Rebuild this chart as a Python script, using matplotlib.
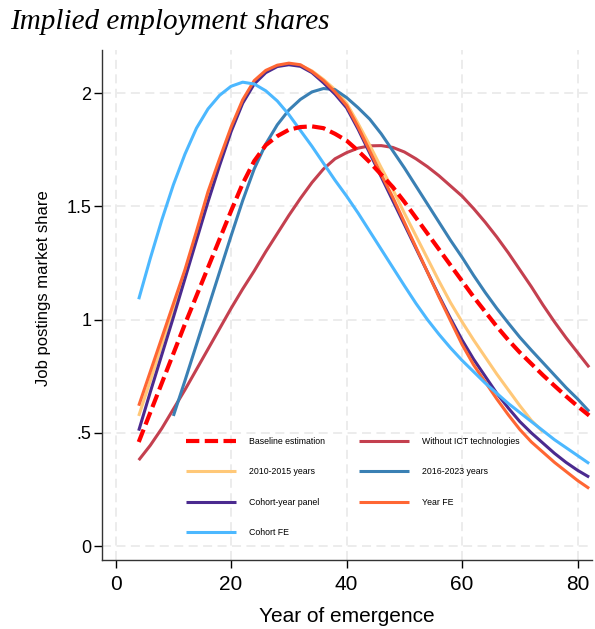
import matplotlib
matplotlib.use("Agg")
import matplotlib.pyplot as plt

# implied employment shares by year of emergence, one curve per specification
x_full = list(range(4, 83, 2))
x_2010 = list(range(4, 75, 2))
x_2016 = list(range(10, 83, 2))

baseline = [0.46, 0.59, 0.72, 0.85, 0.98, 1.105, 1.23, 1.355, 1.48, 1.60,
            1.70, 1.77, 1.81, 1.838, 1.85, 1.853, 1.845, 1.82, 1.79, 1.745,
            1.695, 1.64, 1.585, 1.52, 1.45, 1.38, 1.31, 1.24, 1.17, 1.10,
            1.035, 0.97, 0.91, 0.855, 0.805, 0.755, 0.708, 0.662, 0.618, 0.577]
without_ict = [0.38, 0.445, 0.52, 0.605, 0.69, 0.78, 0.87, 0.96, 1.05, 1.135,
               1.215, 1.30, 1.38, 1.46, 1.535, 1.605, 1.665, 1.71, 1.737, 1.757,
               1.767, 1.768, 1.76, 1.74, 1.71, 1.675, 1.635, 1.59, 1.545, 1.49,
               1.43, 1.365, 1.295, 1.22, 1.145, 1.065, 0.99, 0.92, 0.855, 0.79]
years_2010 = [0.575, 0.73, 0.89, 1.05, 1.21, 1.37, 1.53, 1.69, 1.84, 1.96,
              2.045, 2.095, 2.12, 2.128, 2.122, 2.098, 2.06, 2.015, 1.955, 1.865,
              1.77, 1.67, 1.575, 1.47, 1.37, 1.27, 1.17, 1.075, 0.99, 0.91,
              0.835, 0.76, 0.69, 0.62, 0.555, 0.505]
years_2016 = [0.575, 0.73, 0.89, 1.05, 1.21, 1.37, 1.525, 1.665, 1.775, 1.86,
              1.925, 1.972, 2.005, 2.02, 2.015, 1.98, 1.935, 1.885, 1.82, 1.745,
              1.67, 1.59, 1.51, 1.43, 1.35, 1.275, 1.195, 1.12, 1.05, 0.985,
              0.922, 0.865, 0.81, 0.755, 0.70, 0.65, 0.595]
cohort_year = [0.51, 0.68, 0.845, 1.01, 1.18, 1.35, 1.52, 1.68, 1.83, 1.955,
               2.04, 2.09, 2.117, 2.125, 2.118, 2.09, 2.045, 1.995, 1.935, 1.84,
               1.735, 1.63, 1.525, 1.42, 1.315, 1.21, 1.105, 1.005, 0.91, 0.825,
               0.75, 0.675, 0.61, 0.55, 0.50, 0.455, 0.41, 0.37, 0.335, 0.305]
year_fe = [0.62, 0.77, 0.92, 1.07, 1.22, 1.39, 1.565, 1.71, 1.85, 1.97,
           2.055, 2.10, 2.123, 2.132, 2.125, 2.095, 2.055, 2.005, 1.945, 1.85,
           1.745, 1.64, 1.54, 1.43, 1.32, 1.21, 1.10, 0.995, 0.89, 0.80,
           0.725, 0.65, 0.58, 0.515, 0.46, 0.415, 0.37, 0.33, 0.29, 0.255]
cohort_fe = [1.09, 1.27, 1.44, 1.595, 1.73, 1.845, 1.93, 1.99, 2.03, 2.048,
             2.04, 2.01, 1.965, 1.905, 1.835, 1.765, 1.69, 1.615, 1.545, 1.47,
             1.39, 1.31, 1.23, 1.15, 1.072, 1.0, 0.935, 0.875, 0.82, 0.77,
             0.72, 0.675, 0.63, 0.59, 0.55, 0.51, 0.47, 0.435, 0.40, 0.365]

xticks = [0, 20, 40, 60, 80]
yticks = [0, 0.5, 1, 1.5, 2]
ytick_labels = ["0", ".5", "1", "1.5", "2"]

plt.rcParams['font.family'] = ['Liberation Sans', 'DejaVu Sans']

fig = plt.figure(figsize=(5.95, 6.29), dpi=100)
ax = fig.add_axes([0.172, 0.11, 0.823, 0.8105])

lw = 2.2
l_wo, = ax.plot(x_full, without_ict, color='#C4404F', lw=lw, solid_capstyle='butt', zorder=3)
l_10, = ax.plot(x_2010, years_2010, color='#FFC878', lw=lw, solid_capstyle='butt', zorder=3)
l_16, = ax.plot(x_2016, years_2016, color='#3A80B4', lw=lw, solid_capstyle='butt', zorder=3)
l_cy, = ax.plot(x_full, cohort_year, color='#4B2A8F', lw=lw, solid_capstyle='butt', zorder=3)
l_fe, = ax.plot(x_full, year_fe, color='#FF6633', lw=lw, solid_capstyle='butt', zorder=3)
l_cf, = ax.plot(x_full, cohort_fe, color='#4CB8FF', lw=lw, solid_capstyle='butt', zorder=3)
l_base, = ax.plot(x_full, baseline, color='#FF0000', lw=3.0, dashes=(3.2, 1.3), zorder=4)

ax.set_xlim(-2.3, 82.5)
ax.set_ylim(-0.06, 2.19)
ax.set_xticks(xticks)
ax.set_yticks(yticks)
ax.set_yticklabels(ytick_labels)
ax.tick_params(axis='x', labelsize=15, length=6, width=1, direction='out', pad=5)
ax.tick_params(axis='y', labelsize=13, length=6, width=1, direction='out', pad=2)
ax.grid(True, color='#EBEBEB', lw=1.3, linestyle=(0, (5, 3)), zorder=0)
ax.set_axisbelow(True)

for side in ['top', 'right']:
    ax.spines[side].set_visible(False)
for side in ['left', 'bottom']:
    ax.spines[side].set_color('#333333')
    ax.spines[side].set_linewidth(1.0)

ax.set_xlabel('Year of emergence', fontsize=15, labelpad=9)
ax.set_ylabel('Job postings market share', fontsize=12)
ax.yaxis.set_label_coords(-0.105, 0.533)

handles = [l_base, l_10, l_cy, l_cf, l_wo, l_16, l_fe]
labels = ['Baseline estimation', '2010-2015 years', 'Cohort-year panel', 'Cohort FE',
          'Without ICT technologies', '2016-2023 years', 'Year FE']
ax.legend(handles, labels, ncol=2, frameon=False, fontsize=6.3, loc='upper left',
          bbox_to_anchor=(0.164, 0.2476), handlelength=5.7, handletextpad=1.5,
          columnspacing=3.9, labelspacing=2.43, borderaxespad=0)

fig.text(0.017, 0.986, 'Implied employment shares', fontsize=21, style='italic',
         family=['Liberation Serif', 'DejaVu Serif'], va='top', ha='left')

fig.savefig('out.png', dpi=100)
